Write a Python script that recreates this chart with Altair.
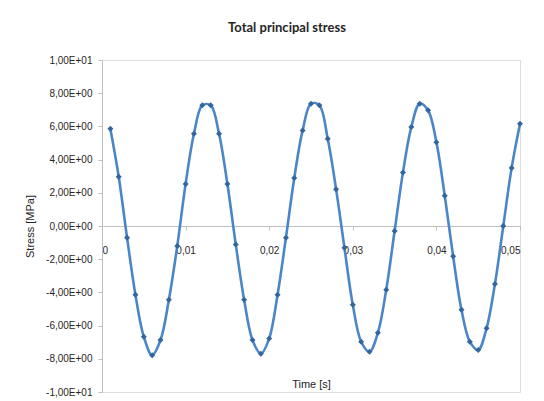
import altair as alt
import pandas as pd

# ---- data ----
time_s = [0.001, 0.002, 0.003, 0.004, 0.005, 0.006, 0.007, 0.008, 0.009, 0.010,
          0.011, 0.012, 0.013, 0.014, 0.015, 0.016, 0.017, 0.018, 0.019, 0.020,
          0.021, 0.022, 0.023, 0.024, 0.025, 0.026, 0.027, 0.028, 0.029, 0.030,
          0.031, 0.032, 0.033, 0.034, 0.035, 0.036, 0.037, 0.038, 0.039, 0.040,
          0.041, 0.042, 0.043, 0.044, 0.045, 0.046, 0.047, 0.048, 0.049, 0.050]
stress_mpa = [5.86, 2.97, -0.71, -4.14, -6.67, -7.78, -6.87, -4.44, -1.21, 2.53,
              5.56, 7.27, 7.27, 5.56, 2.53, -1.11, -4.44, -6.87, -7.70, -6.77,
              -4.14, -0.71, 2.89, 5.76, 7.37, 7.27, 5.25, 2.22, -1.31, -4.75,
              -6.97, -7.58, -6.43, -3.84, -0.30, 3.23, 5.96, 7.37, 6.97, 5.05,
              1.82, -1.82, -5.05, -6.97, -7.47, -6.16, -3.50, 0.00, 3.50, 6.16]

y_ticks = [10, 8, 6, 4, 2, 0, -2, -4, -6, -8, -10]
y_tick_labels = ["1,00E+01", "8,00E+00", "6,00E+00", "4,00E+00", "2,00E+00",
                 "0,00E+00", "-2,00E+00", "-4,00E+00", "-6,00E+00", "-8,00E+00",
                 "-1,00E+01"]
x_ticks = [0, 0.01, 0.02, 0.03, 0.04, 0.05]
x_tick_labels = ["0", "0,01", "0,02", "0,03", "0,04", "0,05"]

title_text = "Total principal stress"
x_title = "Time [s]"
y_title = "Stress [MPa]"


def label_expr(values, labels):
    expr = "''"
    for v, lab in reversed(list(zip(values, labels))):
        expr = f"abs(datum.value - ({v})) < 1e-9 ? '{lab}' : ({expr})"
    return expr


df = pd.DataFrame({"t": time_s, "s": stress_mpa})

FONT = "Liberation Sans"
AXIS_GREY = "#bfbfbf"
TEXT = "#262626"

base = alt.Chart(df).encode(
    x=alt.X(
        "t:Q",
        scale=alt.Scale(domain=[0, 0.05], nice=False, zero=False),
        axis=alt.Axis(
            values=x_ticks,
            labelExpr=label_expr(x_ticks, x_tick_labels),
            title=x_title,
            offset=-166,
            titleY=152,
            grid=False,
            domainColor=AXIS_GREY,
            tickColor=AXIS_GREY,
            tickSize=4,
            labelPadding=15,
            labelFontSize=10,
            labelFont=FONT,
            labelColor=TEXT,
            titleFont=FONT,
            titleFontSize=11,
            titleFontWeight="normal",
            titleColor=TEXT,
        ),
    ),
    y=alt.Y(
        "s:Q",
        scale=alt.Scale(domain=[-10, 10], nice=False),
        axis=alt.Axis(
            values=y_ticks,
            labelExpr=label_expr(y_ticks, y_tick_labels),
            title=y_title,
            grid=False,
            domainColor=AXIS_GREY,
            tickColor=AXIS_GREY,
            tickSize=4,
            labelPadding=6,
            labelFontSize=10,
            labelFont=FONT,
            labelColor=TEXT,
            titleFont=FONT,
            titleFontSize=11,
            titleFontWeight="normal",
            titleColor=TEXT,
            titlePadding=10,
        ),
    ),
)

line = base.mark_line(color="#4a86c8", strokeWidth=2.6, interpolate="catmull-rom")
pts = base.mark_point(shape="diamond", filled=True, size=36, color="#33659f", opacity=1)

chart = (
    alt.layer(line, pts)
    .properties(
        width=418,
        height=332,
        title=alt.TitleParams(
            title_text,
            font="Lato",
            fontSize=13,
            fontWeight="bold",
            color="#262626",
            anchor="middle",
            dx=-24,
            offset=20,
        ),
        autosize=alt.AutoSizeParams(type="none"),
        padding={"left": 94, "top": 52, "right": 14, "bottom": 9},
    )
    .configure_view(stroke=None)
    .configure(background="white")
)

chart.save("out.html", embed_options={"renderer": "svg", "actions": False})
